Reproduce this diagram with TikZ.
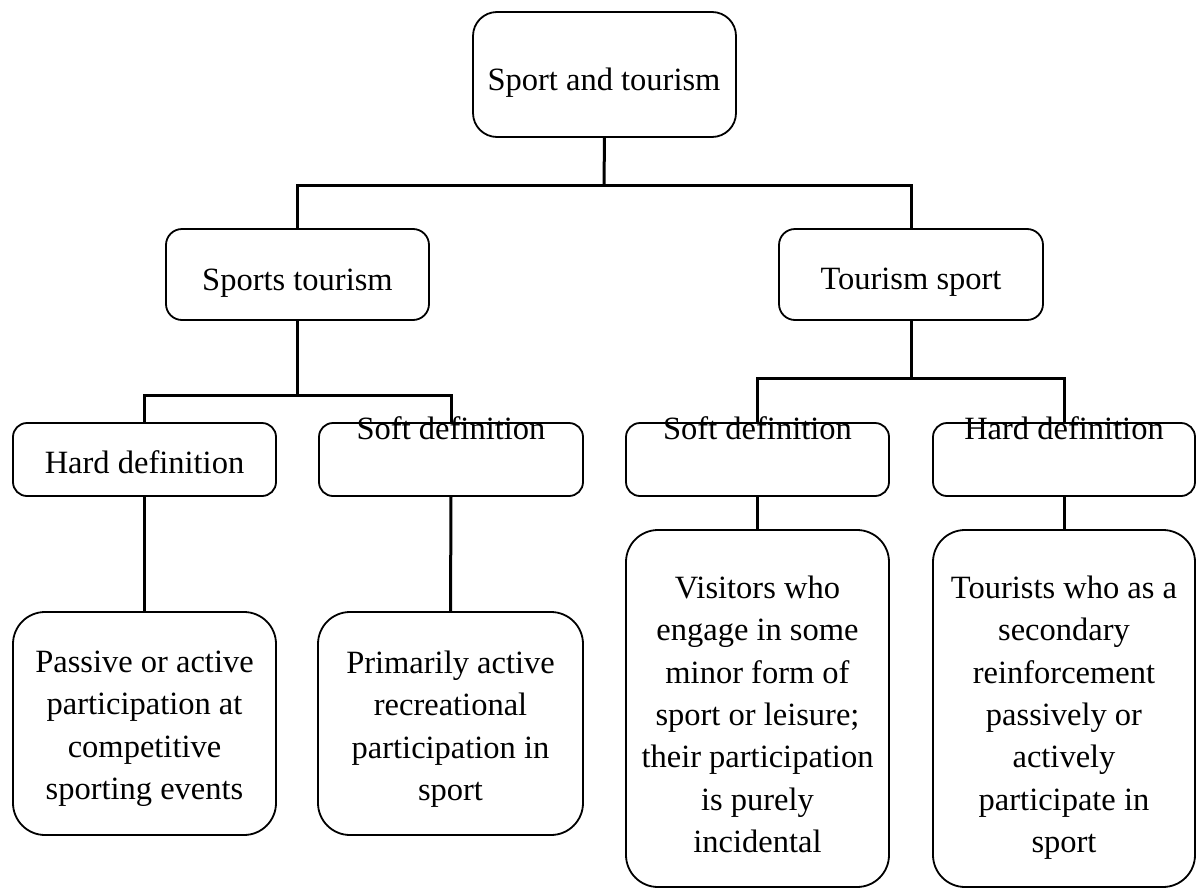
\documentclass[tikz,border=0pt]{standalone}
\usepackage{fontspec}
\setmainfont{Liberation Serif}
\begin{document}
\begin{tikzpicture}[x=1pt,y=-1pt,
  every node/.style={inner sep=0pt, outer sep=0pt},
  txt/.style={font=\fontsize{32.5}{42.3}\selectfont, align=center, text=black},
  box/.style={draw=black, line width=1.8pt, fill=none, rectangle, rounded corners=#1},
  box/.default=16pt,
  conn/.style={draw=black, line width=3pt},
  thinconn/.style={draw=black, line width=2pt}
]
\useasboundingbox[fill=white] (0,0) rectangle (1197,889);

% boxes
\node[box=24pt, minimum width=263pt, minimum height=125pt] (top) at (604.5,74.5) {};
\node[box, minimum width=263pt, minimum height=91pt] (st) at (297.5,274.5) {};
\node[box, minimum width=264pt, minimum height=91pt] (ts) at (911,274.5) {};
\node[box=14pt, minimum width=263pt, minimum height=73pt] (hl) at (144.5,459.5) {};
\node[box=14pt, minimum width=264pt, minimum height=73pt] (sl) at (451,459.5) {};
\node[box=14pt, minimum width=263pt, minimum height=73pt] (sr) at (757.5,459.5) {};
\node[box=14pt, minimum width=262pt, minimum height=73pt] (hr) at (1064,459.5) {};
\node[box=32pt, minimum width=263pt, minimum height=223pt] (bl1) at (144.5,723.5) {};
\node[box=32pt, minimum width=265pt, minimum height=223pt] (bl2) at (450.5,723.5) {};
\node[box=32pt, minimum width=263pt, minimum height=357pt] (br1) at (757.5,708.5) {};
\node[box=32pt, minimum width=262pt, minimum height=357pt] (br2) at (1064,708.5) {};

% texts
\node[txt, anchor=base] (ttop) at (604,90) {Sport and tourism};
\node[txt, anchor=base] (tst) at (297.5,290) {Sports tourism};
\node[txt, anchor=base] (tts) at (911,289) {Tourism sport};
\node[txt, anchor=base] (thl) at (144.5,473) {Hard definition};
\node[txt, anchor=base] (tsl) at (451,439) {Soft definition};
\node[txt, anchor=base] (tsr) at (757.5,439) {Soft definition};
\node[txt, anchor=base] (thr) at (1064,439) {Hard definition};
\node[txt, anchor=north] (tbl1) at (144.5,651) {Passive or active\\participation at\\competitive\\sporting events};
\node[txt, anchor=north] (tbl2) at (450.5,651) {Primarily active\\recreational\\participation in\\sport};
\node[txt, anchor=north] (tbr1) at (757.5,576) {Visitors who\\engage in some\\minor form of\\sport or leisure;\\their participation\\is purely\\incidental};
\node[txt, anchor=north] (tbr2) at (1064,576) {Tourists who as a\\secondary\\reinforcement\\passively or\\actively\\participate in\\sport};

% junctions
\coordinate (j1) at (604,185);
\coordinate (j2) at (297.5,395);
\coordinate (j3) at (911,378);

% connectors
\draw[conn] (top.south) -- (j1);
\draw[conn] (j1) -| (st.north);
\draw[conn] (j1) -| (ts.north);
\draw[conn] (st.south) -- (j2);
\draw[conn] (j2) -| (hl.north);
\draw[conn] (j2) -| (sl.north);
\draw[conn] (ts.south) -- (j3);
\draw[conn] (j3) -| (sr.north);
\draw[conn] (j3) -| (hr.north);
\draw[conn] (hl.south) -- (bl1.north);
\draw[conn] (sl.south) -- (bl2.north);
\draw[conn] (sr.south) -- (br1.north);
\draw[conn] (hr.south) -- (br2.north);
\end{tikzpicture}
\end{document}
